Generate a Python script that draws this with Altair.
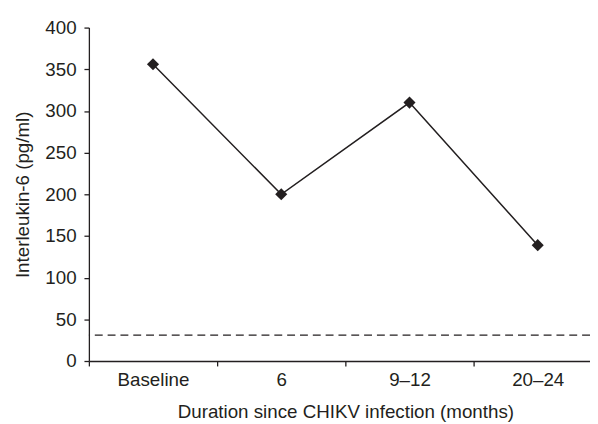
import altair as alt
import pandas as pd

categories = ["Baseline", "6", "9–12", "20–24"]
il6_values = [356, 200, 310, 139]
reference_level = [31]
y_ticks = [0, 50, 100, 150, 200, 250, 300, 350, 400]

df = pd.DataFrame({"duration": categories, "il6": il6_values})
ref = pd.DataFrame({"level": reference_level})

FONT = "Liberation Sans"
INK = "#231f20"

x_enc = alt.X(
    "duration:N",
    sort=categories,
    scale=alt.Scale(type="band", range=[0, 520], paddingInner=0, paddingOuter=0),
    axis=alt.Axis(
        title="Duration since CHIKV infection (months)",
        labelAngle=0,
        tickBand="extent",
        tickSize=5,
        labelPadding=5,
        titlePadding=13,
    ),
)
y_enc = alt.Y(
    "il6:Q",
    scale=alt.Scale(domain=[0, 400], nice=False),
    axis=alt.Axis(
        title="Interleukin-6 (pg/ml)",
        values=y_ticks,
        tickSize=5,
        labelPadding=8,
        titlePadding=13,
    ),
)

line = alt.Chart(df).mark_line(
    color=INK,
    strokeWidth=1.5,
    point=alt.OverlayMarkDef(shape="diamond", size=150, filled=True, color=INK, opacity=1),
).encode(x=x_enc, y=y_enc)

rule = alt.Chart(ref).mark_rule(color=INK, strokeWidth=1.3, strokeDash=[8, 5]).encode(
    y=alt.Y("level:Q", scale=alt.Scale(domain=[0, 400], nice=False))
)

chart = (
    alt.layer(rule, line)
    .properties(
        width=508,
        height=338,
        autosize=alt.AutoSizeParams(type="none"),
        padding={"left": 82, "top": 17, "right": 0, "bottom": 61},
        background="white",
    )
    .configure_view(stroke=None)
    .configure_axis(
        grid=False,
        domainColor=INK,
        domainWidth=1.3,
        tickColor=INK,
        tickWidth=1.3,
        labelFont=FONT,
        titleFont=FONT,
        labelFontSize=19,
        titleFontSize=19,
        labelColor=INK,
        titleColor=INK,
        titleFontWeight="normal",
    )
)

chart.save("out.html", embed_options={"renderer": "svg", "actions": False})
